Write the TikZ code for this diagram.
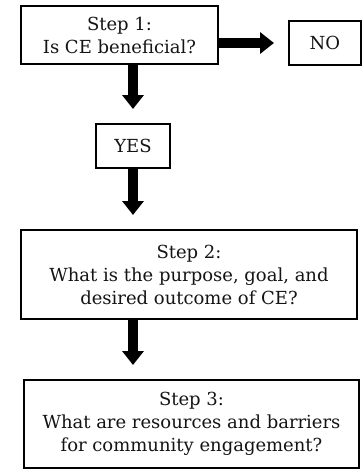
\documentclass[tikz,border=0pt]{standalone}
\usepackage{fontspec}
\setmainfont{DejaVu Serif}
\usetikzlibrary{arrows.meta}
\begin{document}
\begin{tikzpicture}[x=1pt,y=-1pt,
  stepbox/.style={draw=black, line width=1.6pt, inner sep=0pt, align=center,
    font=\fontsize{18}{23}\selectfont, text=black!92},
  bigarrow/.style={line width=10pt, -{Triangle[width=21pt,length=14pt]},
    shorten >=14pt}]
\useasboundingbox (0,0) rectangle (364,472);
\node[stepbox, minimum width=197.4pt, minimum height=58.4pt] (s1) at (119.5,35) {Step 1:\\Is CE beneficial?};
\node[stepbox, minimum width=72.4pt, minimum height=44.4pt] (no) at (325,43) {NO};
\node[stepbox, minimum width=74.4pt, minimum height=44.4pt] (yes) at (133,146) {YES};
\node[stepbox, minimum width=336.4pt, minimum height=89.4pt] (s2) at (189,274.5) {Step 2:\\What is the purpose, goal, and\\desired outcome of CE?};
\node[stepbox, minimum width=335.4pt, minimum height=88.4pt] (s3) at (191.5,424) {Step 3:\\What are resources and barriers\\for community engagement?};
\draw[bigarrow] (s1.east |- no.west) -- (no.west);
\draw[bigarrow] (s1.south -| yes.center) -- (yes.north);
\draw[bigarrow] (yes.south) -- (s2.north -| yes.center);
\draw[bigarrow] (s2.south -| yes.center) -- (s3.north -| yes.center);
\end{tikzpicture}
\end{document}
